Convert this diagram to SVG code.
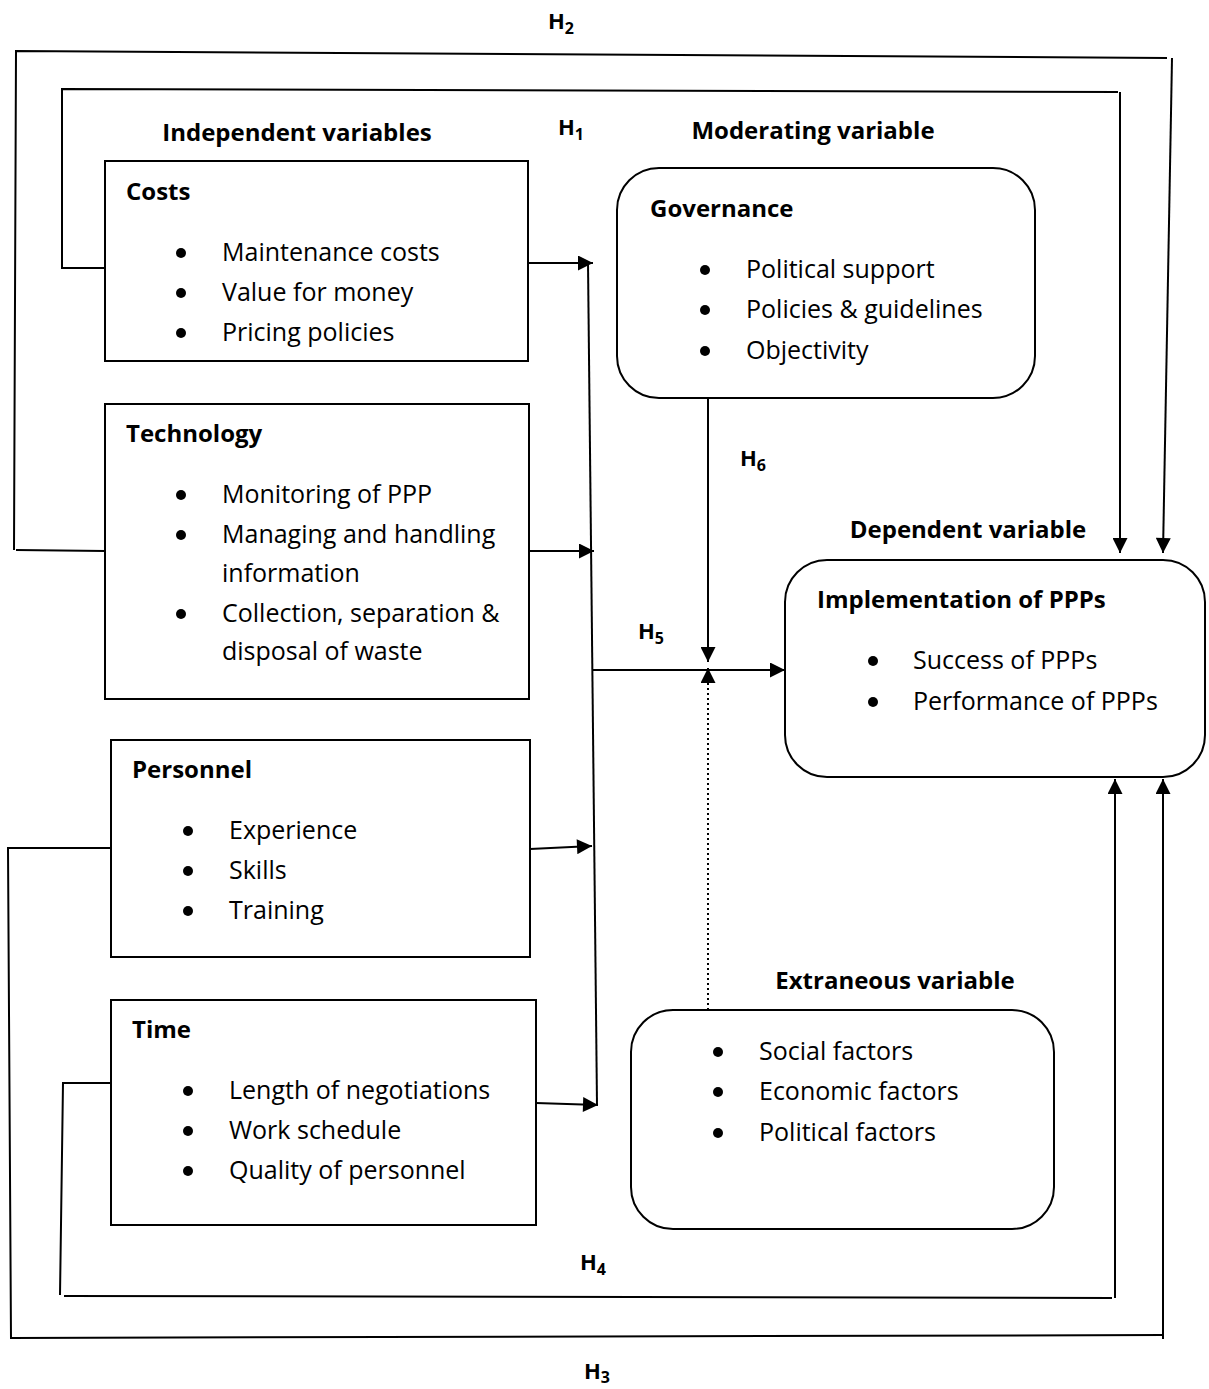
<svg xmlns="http://www.w3.org/2000/svg" width="1209" height="1389" viewBox="0 0 1209 1389">
<style>
text{font-family:"Open Sans","Liberation Sans",Arial,sans-serif;fill:#000}
.b{font-weight:bold;font-size:24px}
.t{font-size:25px}
.h{font-weight:bold;font-size:22px}
.s{font-size:16px;font-weight:bold}
.box{fill:#fff;stroke:#000;stroke-width:2}
.ln{fill:none;stroke:#000;stroke-width:2}
.dot{fill:none;stroke:#000;stroke-width:2;stroke-dasharray:2 3}
.bul{fill:#000}
</style>
<defs>
<marker id="ah" viewBox="0 0 10 10" refX="10" refY="5" markerWidth="9.5" markerHeight="7.5" markerUnits="strokeWidth" orient="auto">
<path d="M0,0 L10,5 L0,10 z" fill="#000"/>
</marker>
</defs>
<rect width="1209" height="1389" fill="#fff"/>
<g id="connectors">
<polyline class="ln" points="14,550 16,51 1167,58"/>
<line class="ln" x1="16" y1="550" x2="105" y2="551"/>
<line class="ln" x1="1172" y1="58" x2="1163" y2="553" marker-end="url(#ah)"/>
<polyline class="ln" points="108,268 62,268 62,89 1118,92"/>
<line class="ln" x1="1120" y1="92" x2="1120" y2="553" marker-end="url(#ah)"/>
<line class="ln" x1="528" y1="263" x2="593" y2="263" marker-end="url(#ah)"/>
<line class="ln" x1="529" y1="551" x2="594" y2="551" marker-end="url(#ah)"/>
<line class="ln" x1="530" y1="849" x2="592" y2="846" marker-end="url(#ah)"/>
<line class="ln" x1="536" y1="1103" x2="598" y2="1105" marker-end="url(#ah)"/>
<line class="ln" x1="588" y1="263" x2="597" y2="1105"/>
<line class="ln" x1="593" y1="670" x2="785" y2="670" marker-end="url(#ah)"/>
<line class="ln" x1="708" y1="398" x2="708" y2="662" marker-end="url(#ah)"/>
<line class="dot" x1="708" y1="1010" x2="708" y2="668" marker-end="url(#ah)"/>
<polyline class="ln" points="111,1083 63,1083 60,1295"/>
<line class="ln" x1="64" y1="1296" x2="1112" y2="1298"/>
<line class="ln" x1="1115" y1="1298" x2="1115" y2="779" marker-end="url(#ah)"/>
<polyline class="ln" points="111,848 8,848 11,1339"/>
<line class="ln" x1="11" y1="1338" x2="1163" y2="1335"/>
<line class="ln" x1="1163" y1="1339" x2="1163" y2="779" marker-end="url(#ah)"/>
</g>
<g id="labels">
<text class="h" x="548" y="29">H<tspan class="s" dy="5">2</tspan></text>
<text class="h" x="558" y="135">H<tspan class="s" dy="5">1</tspan></text>
<text class="h" x="740" y="466">H<tspan class="s" dy="5">6</tspan></text>
<text class="h" x="638" y="639">H<tspan class="s" dy="5">5</tspan></text>
<text class="h" x="580" y="1270">H<tspan class="s" dy="5">4</tspan></text>
<text class="h" x="584" y="1379">H<tspan class="s" dy="4">3</tspan></text>
<text class="b" x="297" y="141" text-anchor="middle">Independent variables</text>
<text class="b" x="813" y="139" text-anchor="middle">Moderating variable</text>
<text class="b" x="968" y="538" text-anchor="middle">Dependent variable</text>
<text class="b" x="895" y="989" text-anchor="middle">Extraneous variable</text>
</g>
<g id="costs">
<rect class="box" x="105" y="161" width="423" height="200"/>
<text class="b" x="126" y="200">Costs</text>
<circle class="bul" cx="181" cy="253" r="5"/><text class="t" x="222" y="261">Maintenance costs</text>
<circle class="bul" cx="181" cy="293" r="5"/><text class="t" x="222" y="301">Value for money</text>
<circle class="bul" cx="181" cy="333" r="5"/><text class="t" x="222" y="341">Pricing policies</text>
</g>
<g id="technology">
<rect class="box" x="105" y="404" width="424" height="295"/>
<text class="b" x="126" y="442">Technology</text>
<circle class="bul" cx="181" cy="495" r="5"/><text class="t" x="222" y="503">Monitoring of PPP</text>
<circle class="bul" cx="181" cy="535" r="5"/><text class="t" x="222" y="543">Managing and handling</text>
<text class="t" x="222" y="582">information</text>
<circle class="bul" cx="181" cy="614" r="5"/><text class="t" x="222" y="622">Collection, separation &amp;</text>
<text class="t" x="222" y="660">disposal of waste</text>
</g>
<g id="personnel">
<rect class="box" x="111" y="740" width="419" height="217"/>
<text class="b" x="132" y="778">Personnel</text>
<circle class="bul" cx="188" cy="831" r="5"/><text class="t" x="229" y="839">Experience</text>
<circle class="bul" cx="188" cy="871" r="5"/><text class="t" x="229" y="879">Skills</text>
<circle class="bul" cx="188" cy="911" r="5"/><text class="t" x="229" y="919">Training</text>
</g>
<g id="time">
<rect class="box" x="111" y="1000" width="425" height="225"/>
<text class="b" x="132" y="1038">Time</text>
<circle class="bul" cx="188" cy="1091" r="5"/><text class="t" x="229" y="1099">Length of negotiations</text>
<circle class="bul" cx="188" cy="1131" r="5"/><text class="t" x="229" y="1139">Work schedule</text>
<circle class="bul" cx="188" cy="1171" r="5"/><text class="t" x="229" y="1179">Quality of personnel</text>
</g>
<g id="governance">
<rect class="box" x="617" y="168" width="418" height="230" rx="42"/>
<text class="b" x="650" y="217">Governance</text>
<circle class="bul" cx="705" cy="270" r="5"/><text class="t" x="746" y="278">Political support</text>
<circle class="bul" cx="705" cy="310" r="5"/><text class="t" x="746" y="318">Policies &amp; guidelines</text>
<circle class="bul" cx="705" cy="351" r="5"/><text class="t" x="746" y="359">Objectivity</text>
</g>
<g id="implementation">
<rect class="box" x="785" y="560" width="420" height="217" rx="42"/>
<text class="b" x="817" y="608">Implementation of PPPs</text>
<circle class="bul" cx="873" cy="661" r="5"/><text class="t" x="913" y="669">Success of PPPs</text>
<circle class="bul" cx="873" cy="702" r="5"/><text class="t" x="913" y="710">Performance of PPPs</text>
</g>
<g id="extraneous">
<rect class="box" x="631" y="1010" width="423" height="219" rx="42"/>
<circle class="bul" cx="718" cy="1052" r="5"/><text class="t" x="759" y="1060">Social factors</text>
<circle class="bul" cx="718" cy="1092" r="5"/><text class="t" x="759" y="1100">Economic factors</text>
<circle class="bul" cx="718" cy="1133" r="5"/><text class="t" x="759" y="1141">Political factors</text>
</g>
</svg>
